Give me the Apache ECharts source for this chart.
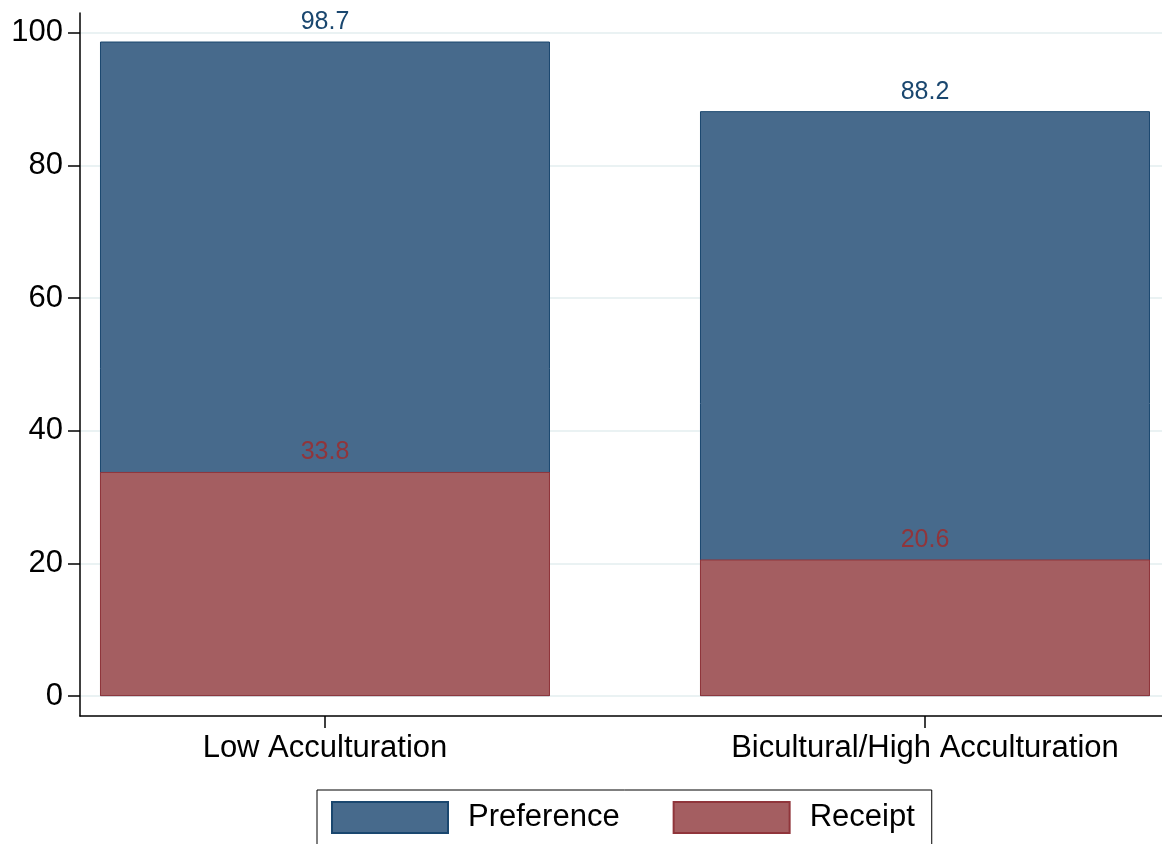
<!DOCTYPE html>
<html>
<head>
<meta charset="utf-8">
<script src="https://cdn.jsdelivr.net/npm/echarts@6/dist/echarts.min.js"></script>
<style>
html,body{margin:0;padding:0;background:#fff;}
#chart{width:1162px;height:844px;}
</style>
</head>
<body>
<div id="chart"></div>
<script>
const categories = ['Low Acculturation', 'Bicultural/High Acculturation'];
const preference = [98.7, 88.2];
const receipt = [33.8, 20.6];
const yTicks = [0, 20, 40, 60, 80, 100];
const seriesNames = ['Preference', 'Receipt'];

const FONT = '"Liberation Sans", Arial, Helvetica, sans-serif';
const chart = echarts.init(document.getElementById('chart'), null, {renderer: 'canvas'});

function toPairs(arr) { return arr.map((v, i) => [i, v]); }

const option = {
  animation: false,
  backgroundColor: '#fff',
  textStyle: {fontFamily: FONT},
  grid: {left: 80, right: 0, top: 13, bottom: 128, containLabel: false},
  xAxis: {
    type: 'value',
    min: -0.4083,
    max: 1.395,
    axisLine: {show: true, onZero: false, lineStyle: {color: '#000', width: 1.5}},
    axisTick: {show: true, length: 12, lineStyle: {color: '#000', width: 1.5}, customValues: categories.map((c, i) => i)},
    axisLabel: {
      show: true, margin: 17, fontSize: 31, color: '#000', fontFamily: FONT,
      customValues: categories.map((c, i) => i),
      formatter: v => categories[Math.round(v)] || ''
    },
    splitLine: {show: false}
  },
  yAxis: {
    type: 'value',
    min: -3,
    max: 103,
    axisLine: {show: true, onZero: false, lineStyle: {color: '#000', width: 1.5}},
    axisTick: {show: true, length: 12, lineStyle: {color: '#000', width: 1.5}, customValues: yTicks},
    axisLabel: {show: true, margin: 17, fontSize: 31, color: '#000', fontFamily: FONT, customValues: yTicks,
      padding: [5, 0, 0, 0]},
    splitLine: {show: true, lineStyle: {color: '#eaf2f3', width: 2}}
  },
  legend: {
    data: seriesNames,
    left: 317,
    top: 790,
    orient: 'horizontal',
    icon: 'rect',
    itemWidth: 116,
    itemHeight: 31,
    itemGap: 53,
    borderColor: '#000',
    borderWidth: 1,
    padding: [11, 17, 11, 14],
    textStyle: {fontSize: 31, color: '#000', fontFamily: FONT, padding: [0, 0, 0, 15]}
  },
  series: [
    {
      name: seriesNames[0],
      type: 'bar',
      data: toPairs(preference),
      barWidth: 450,
      barGap: '-100%',
      itemStyle: {color: '#476a8c', borderColor: '#1a476f', borderWidth: 1},
      label: {show: true, position: 'top', distance: 7, fontSize: 25, color: '#1a476f', fontFamily: FONT,
        formatter: p => p.value[1].toFixed(1)},
      z: 2
    },
    {
      name: seriesNames[1],
      type: 'bar',
      data: toPairs(receipt),
      barWidth: 450,
      barGap: '-100%',
      itemStyle: {color: '#a45e61', borderColor: '#90353b', borderWidth: 1},
      label: {show: true, position: 'top', distance: 7, fontSize: 25, color: '#90353b', fontFamily: FONT,
        formatter: p => p.value[1].toFixed(1)},
      z: 3
    }
  ]
};
chart.setOption(option);
</script>
</body>
</html>
